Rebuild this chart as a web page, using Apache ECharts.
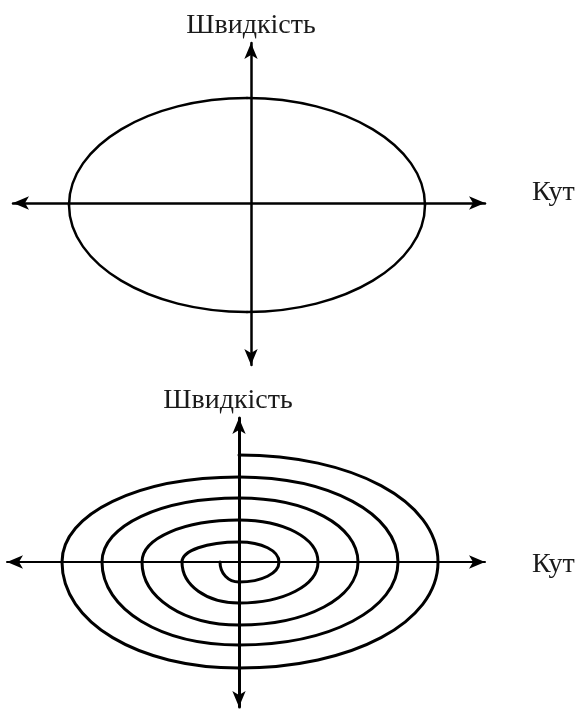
<!DOCTYPE html>
<html>
<head>
<meta charset="utf-8">
<script src="https://cdn.jsdelivr.net/npm/echarts@6/dist/echarts.min.js"></script>
<style>
  html, body { margin: 0; padding: 0; background: #ffffff; }
  #chart { width: 583px; height: 709px; }
</style>
</head>
<body>
<div id="chart"></div>
<script>
// axis titles
var xName = 'Кут';
var yName = 'Швидкість';

// top: closed orbit, its four extreme points (top, right, bottom, left, back to top)
var ellipseX = [-4, 174, -4, -182, -4];
var ellipseY = [105, -2, -109, -2, 105];

// bottom: damped spiral, where it crosses the axes, clockwise from the top
var spiralX = [0, 199, 0, -177, 0, 159, 0, -137, 0, 119, 0, -97, 0, 79, 0, -57, 0, 40, 0, -19];
var spiralY = [107, 0, -106, 0, 85, 0, -83, 0, 64, 0, -63, 0, 42, 0, -41, 0, 20, 0, -20, 0];

// consecutive points -> one quarter-arc segment each
function segments(xs, ys) {
    var out = [];
    for (var i = 0; i < xs.length - 1; i++) {
        out.push([xs[i], ys[i], xs[i + 1], ys[i + 1]]);
    }
    return out;
}

// quarter arc: even segments start on a top/bottom point (flat tangent),
// odd ones start on a left/right point (upright tangent)
function arcRenderer(k, width) {
    return function (params, api) {
        var p0 = api.coord([api.value(0), api.value(1)]);
        var p1 = api.coord([api.value(2), api.value(3)]);
        var c = params.dataIndex % 2 === 0 ? [p1[0], p0[1]] : [p0[0], p1[1]];
        return {
            type: 'bezierCurve',
            shape: {
                x1: p0[0], y1: p0[1],
                x2: p1[0], y2: p1[1],
                cpx1: p0[0] + k * (c[0] - p0[0]), cpy1: p0[1] + k * (c[1] - p0[1]),
                cpx2: p1[0] + k * (c[0] - p1[0]), cpy2: p1[1] + k * (c[1] - p1[1])
            },
            style: { stroke: '#000000', fill: 'none', lineWidth: width, lineCap: 'round' }
        };
    };
}

var font = '"Liberation Serif", "DejaVu Serif", serif';

function axisFor(name, gridIndex, min, max, lineWidth, nameGap, nameStyle) {
    var style = { color: '#1a1a1a', fontSize: 28, fontFamily: font };
    for (var key in nameStyle) { style[key] = nameStyle[key]; }
    return {
        type: 'value',
        gridIndex: gridIndex,
        min: min,
        max: max,
        name: name,
        nameLocation: 'end',
        nameGap: nameGap,
        nameTextStyle: style,
        axisLine: {
            onZero: true,
            symbol: ['arrow', 'arrow'],
            symbolSize: [10, 16],
            lineStyle: { color: '#000000', width: lineWidth }
        },
        axisTick: { show: false },
        axisLabel: { show: false },
        splitLine: { show: false }
    };
}

var chart = echarts.init(document.getElementById('chart'), null, { renderer: 'canvas' });

var option = {
    backgroundColor: '#ffffff',
    animation: false,
    grid: [
        { left: 13, top: 43, width: 472, height: 322 },
        { left: 7, top: 418, width: 478, height: 289 }
    ],
    xAxis: [
        axisFor(xName, 0, -238, 234, 2.5, 47, { verticalAlign: 'bottom', lineHeight: 20 }),
        axisFor(xName, 1, -232, 246, 2, 47, { verticalAlign: 'top', lineHeight: 22, padding: [-8, 0, 0, 0] })
    ],
    yAxis: [
        axisFor(yName, 0, -162, 160, 2.5, 3, {}),
        axisFor(yName, 1, -145, 144, 3, 3, { padding: [0, 22, 0, 0] })
    ],
    series: [
        {
            name: 'orbit',
            type: 'custom',
            xAxisIndex: 0,
            yAxisIndex: 0,
            data: segments(ellipseX, ellipseY),
            encode: { x: [0, 2], y: [1, 3] },
            renderItem: arcRenderer(0.552, 2.5)
        },
        {
            name: 'spiral',
            type: 'custom',
            xAxisIndex: 1,
            yAxisIndex: 1,
            data: segments(spiralX, spiralY),
            encode: { x: [0, 2], y: [1, 3] },
            renderItem: arcRenderer(0.57, 3)
        }
    ]
};

chart.setOption(option);
</script>
</body>
</html>
